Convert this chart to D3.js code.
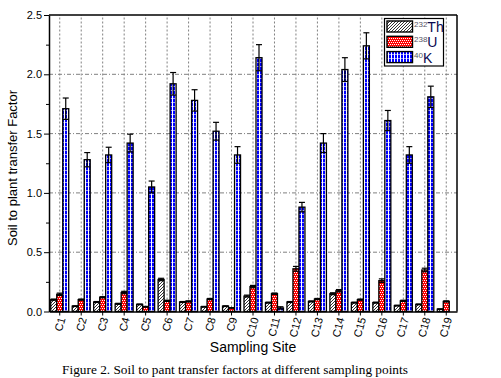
<!DOCTYPE html>
<html><head><meta charset="utf-8">
<script src="https://cdn.jsdelivr.net/npm/d3@7"></script>
<style>body{margin:0;background:#fff}svg{display:block}</style>
</head><body>
<script>
const categories = ["C1","C2","C3","C4","C5","C6","C7","C8","C9","C10","C11","C12","C13","C14","C15","C16","C17","C18","C19"];
const seriesNames = ["Th","U","K"];
const thValues = [0.10,0.045,0.08,0.065,0.06,0.27,0.08,0.04,0.045,0.13,0.075,0.08,0.085,0.15,0.075,0.075,0.05,0.06,0.02];
const uValues  = [0.145,0.10,0.12,0.16,0.04,0.09,0.085,0.105,0.03,0.21,0.15,0.36,0.105,0.175,0.10,0.26,0.09,0.35,0.085];
const kValues  = [1.71,1.28,1.32,1.42,1.05,1.92,1.78,1.52,1.32,2.14,0.03,0.88,1.42,2.04,2.24,1.61,1.32,1.81,0];
const thErrors = [0.005,0.003,0.004,0.004,0.003,0.01,0.004,0.003,0.003,0.008,0.004,0.004,0.004,0.008,0.004,0.004,0.003,0.003,0.002];
const uErrors  = [0.01,0.005,0.005,0.01,0.003,0.005,0.005,0.005,0.002,0.01,0.006,0.02,0.005,0.01,0.005,0.015,0.005,0.015,0.005];
const kErrors  = [0.09,0.06,0.065,0.075,0.05,0.095,0.09,0.075,0.07,0.11,0.01,0.04,0.08,0.10,0.11,0.085,0.07,0.09,0];
const yTicks = [0.0,0.5,1.0,1.5,2.0,2.5];
const legendLabels = [{sup:"232",main:"Th"},{sup:"238",main:"U"},{sup:"40",main:"K"}];
const xTitle = "Sampling Site";
const yTitle = "Soil to plant transfer Factor";
const caption = "Figure 2. Soil to pant transfer factors at different sampling points";

const W = 501, H = 378;
const m = {left:49, right:44, top:15, bottom:66.5};
const svg = d3.select("body").append("svg").attr("width",W).attr("height",H);
const defs = svg.append("defs");

// patterns
const pTh = defs.append("pattern").attr("id","pTh").attr("patternUnits","userSpaceOnUse").attr("width",3).attr("height",3);
pTh.append("rect").attr("width",3).attr("height",3).attr("fill","#fff");
pTh.append("path").attr("d","M-1,1 L1,-1 M0,3 L3,0 M2,4 L4,2").attr("stroke","#000").attr("stroke-width",0.8);
const pU = defs.append("pattern").attr("id","pU").attr("patternUnits","userSpaceOnUse").attr("width",4).attr("height",4);
pU.append("rect").attr("width",4).attr("height",4).attr("fill","#ff0000");
[[0,0],[2,0],[1,2],[3,2]].forEach(([px,py])=>pU.append("rect").attr("x",px).attr("y",py).attr("width",1).attr("height",1).attr("fill","#fff"));
const pK = defs.append("pattern").attr("id","pK").attr("patternUnits","userSpaceOnUse").attr("width",3).attr("height",4);
pK.append("rect").attr("width",3).attr("height",4).attr("fill","#0000ff");
pK.append("rect").attr("x",1).attr("width",1).attr("height",4).attr("fill","#fff");
pK.append("rect").attr("y",2).attr("width",3).attr("height",1).attr("fill","#fff").attr("opacity",0.6);
const fills = {Th:"url(#pTh)",U:"url(#pU)",K:"url(#pK)"};

const x = d3.scaleBand().domain(categories).range([m.left, W-m.right]).paddingInner(0).paddingOuter(0);
const y = d3.scaleLinear().domain([0,2.5]).range([H-m.bottom, m.top]);
const xs = d3.scaleBand().domain(seriesNames).range([-9,9]);

const g = svg.append("g");
// grid
g.append("g").selectAll("line").data(categories).join("line")
  .attr("x1",d=>x(d)+x.bandwidth()/2).attr("x2",d=>x(d)+x.bandwidth()/2)
  .attr("y1",y(0)).attr("y2",m.top)
  .attr("stroke","#808080").attr("stroke-width",1).attr("stroke-dasharray","2,2");
g.append("g").selectAll("line").data(yTicks.filter(t=>t>0&&t<2.5)).join("line")
  .attr("x1",m.left).attr("x2",W-m.right)
  .attr("y1",d=>y(d)).attr("y2",d=>y(d))
  .attr("stroke","#808080").attr("stroke-width",1).attr("stroke-dasharray","4,2,1,2");

// bars
const data = [];
categories.forEach((c,i)=>{
  data.push({c,s:"Th",v:thValues[i],e:thErrors[i]});
  data.push({c,s:"U",v:uValues[i],e:uErrors[i]});
  data.push({c,s:"K",v:kValues[i],e:kErrors[i]});
});
const vis = data.filter(d=>d.v>0);
const cx = d=> x(d.c)+x.bandwidth()/2 + xs(d.s);
g.append("g").selectAll("rect").data(vis).join("rect")
  .attr("x",d=>cx(d)).attr("width",xs.bandwidth())
  .attr("y",d=>y(d.v)).attr("height",d=>y(0)-y(d.v))
  .attr("fill",d=>fills[d.s]).attr("stroke","#000").attr("stroke-width",1.3);
// error bars
const eb = g.append("g").attr("stroke","#000").attr("stroke-width",1.2);
vis.forEach(d=>{
  const mx = cx(d)+xs.bandwidth()/2;
  eb.append("line").attr("x1",mx).attr("x2",mx).attr("y1",y(d.v+d.e)).attr("y2",y(Math.max(0,d.v-d.e)));
  eb.append("line").attr("x1",mx-3).attr("x2",mx+3).attr("y1",y(d.v+d.e)).attr("y2",y(d.v+d.e));
  eb.append("line").attr("x1",mx-3).attr("x2",mx+3).attr("y1",y(Math.max(0,d.v-d.e))).attr("y2",y(Math.max(0,d.v-d.e)));
});

// frame
svg.append("line").attr("x1",m.left).attr("x2",W-m.right).attr("y1",m.top).attr("y2",m.top).attr("stroke","#000").attr("stroke-width",1.5);
svg.append("line").attr("x1",W-m.right).attr("x2",W-m.right).attr("y1",m.top).attr("y2",y(0)).attr("stroke","#000").attr("stroke-width",1.5);

// y axis
const yAxis = svg.append("g").attr("transform",`translate(${m.left},0)`)
  .call(d3.axisLeft(y).tickValues(yTicks).tickFormat(d3.format(".1f")).tickSize(5).tickSizeOuter(0));
svg.append("g").attr("transform",`translate(${m.left},0)`)
  .call(d3.axisLeft(y).tickValues([0.25,0.75,1.25,1.75,2.25]).tickFormat("").tickSize(3).tickSizeOuter(0))
  .call(a=>a.select(".domain").remove());
yAxis.select(".domain").attr("stroke-width",1.5);
yAxis.selectAll("text").attr("font-family","Liberation Sans, Arial").attr("font-size",11).attr("fill","#000").attr("x",-7);

// x axis
const xAxis = svg.append("g").attr("transform",`translate(0,${y(0)})`)
  .call(d3.axisBottom(x).tickSize(4).tickSizeOuter(0));
xAxis.select(".domain").attr("stroke-width",1.5);
xAxis.selectAll("text")
  .attr("font-family","Liberation Sans, Arial").attr("font-size",11).attr("fill","#000")
  .attr("text-anchor","end").attr("dy","0.35em")
  .attr("transform","translate(2,6) rotate(-75)").attr("y",0).attr("x",0);

// titles
svg.append("text").attr("x",(m.left+W-m.right)/2).attr("y",352).attr("text-anchor","middle")
  .attr("font-family","Liberation Sans, Arial").attr("font-size",14).text(xTitle);
svg.append("text").attr("transform",`translate(17,168) rotate(-90)`).attr("text-anchor","middle")
  .attr("font-family","Liberation Sans, Arial").attr("font-size",13).text(yTitle);
svg.append("text").attr("x",235).attr("y",374).attr("text-anchor","middle")
  .attr("font-family","Liberation Serif, Times New Roman").attr("font-size",13.3).text(caption);

// legend
const lg = svg.append("g");
lg.append("rect").attr("x",384.5).attr("y",18.5).attr("width",59).attr("height",47.5).attr("fill","#fff").attr("stroke","#000").attr("stroke-width",1.2);
legendLabels.forEach((l,i)=>{
  const yy = 21 + i*15.3;
  lg.append("rect").attr("x",387).attr("y",yy).attr("width",25.5).attr("height",11).attr("fill",fills[seriesNames[i]]).attr("stroke","#000").attr("stroke-width",1.4);
  const t = lg.append("text").attr("x",414).attr("y",yy+11).attr("font-family","Liberation Sans, Arial").attr("fill","#0a0a50");
  t.append("tspan").attr("font-size",8).attr("dy",-5).attr("fill","#556").text(l.sup);
  t.append("tspan").attr("font-size",14).attr("dy",5).text(l.main);
});
</script>
</body></html>
